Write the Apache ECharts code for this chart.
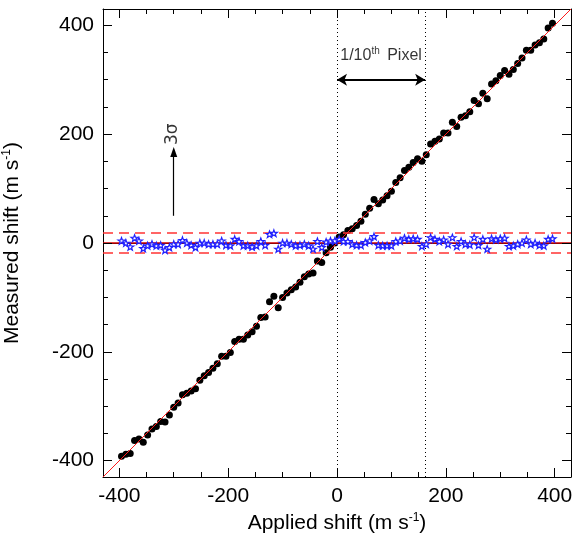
<!DOCTYPE html>
<html>
<head>
<meta charset="utf-8">
<script src="https://cdn.jsdelivr.net/npm/echarts@6/dist/echarts.min.js"></script>
<style>
html,body{margin:0;padding:0;background:#fff;}
#chart{width:577px;height:542px;}
</style>
</head>
<body>
<div id="chart"></div>
<script>
// ---- data ----
const applied = [-396,-388,-380,-372,-364,-356,-348,-340,-332,-324,-316,-308,-300,-292,-284,-276,-268,-260,-252,-244,-236,-228,-220,-212,-204,-196,-188,-180,-172,-164,-156,-148,-140,-132,-124,-116,-108,-100,-92,-84,-76,-68,-60,-52,-44,-36,-28,-20,-12,-4,4,12,20,28,36,44,52,60,68,76,84,92,100,108,116,124,132,140,148,156,164,172,180,188,196,204,212,220,228,236,244,252,260,268,276,284,292,300,308,316,324,332,340,348,356,364,372,380,388,396];
const measured = [-392,-388,-387,-363,-360,-366,-353,-342,-337,-328,-329,-316,-302,-294,-279,-276,-272,-268,-252,-244,-238,-230,-222,-208,-208,-201,-181,-177,-177,-169,-163,-153,-137,-136,-108,-98,-119,-100,-92,-86,-81,-72,-62,-57,-55,-33,-36,-18,-8,0,11,15,23,26,32,40,53,64,80,72,79,87,95,111,120,133,139,148,155,150,162,182,187,191,202,202,222,214,231,234,241,262,256,275,265,292,298,308,317,310,319,330,340,354,354,364,368,375,395,404];
const residual = [4,0,-7,9,4,-10,-5,-2,-5,-4,-13,-8,-2,-2,5,0,-4,-8,0,0,-2,-2,-2,4,-4,-5,7,3,-5,-5,-7,-5,3,-4,16,18,-11,0,0,-2,-5,-4,-2,-5,-11,3,-8,2,4,4,7,3,3,-2,-4,-4,1,4,12,-4,-5,-5,-5,3,4,9,7,8,7,-6,-2,10,7,3,6,-2,10,-6,3,-2,-3,10,-4,7,-11,8,6,8,9,-6,-5,-2,0,6,-2,0,-4,-5,7,8];
const axisRange = [-430, 430];
const majorTicks = [-400, -200, 0, 200, 400];
const minorTicks = [-350, -300, -250, -150, -100, -50, 50, 100, 150, 250, 300, 350];
const sigmaLevel = 18;          // 3 sigma band
const pixelTenth = 162;         // 1/10th pixel in m/s
const doubleArrowY = 300;
const sigmaArrow = [[-300, 50], [-300, 167]];
const pixelLabelPos = [81, 344];
const sigmaLabelPos = [-302, 200];

const FONT = '"Liberation Sans", Arial, Helvetica, sans-serif';

const GRID = {left: 103, right: 6, top: 9, bottom: 65};
const PLOT_H = 542 - GRID.top - GRID.bottom;
const UNITS_PER_PX = (axisRange[1] - axisRange[0]) / PLOT_H;
const MAJOR_LEN = 9 * UNITS_PER_PX, MINOR_LEN = 5 * UNITS_PER_PX;

const starPath = 'path://M50 0 L61.76 33.82 L97.55 34.55 L69.02 56.18 L79.39 90.45 L50 70 L20.61 90.45 L30.98 56.18 L2.45 34.55 L38.24 33.82 Z';

function axisSet(pos, showLabel, name, gap) {
  const o = {
    type: 'value', position: pos, min: axisRange[0], max: axisRange[1],
    splitNumber: 4,
    splitLine: {show: false},
    axisLine: {show: true, onZero: false, lineStyle: {color: '#000', width: 1}},
    axisTick: {show: true, inside: true, length: 9, lineStyle: {color: '#000', width: 1}},
    minorTick: {show: true, splitNumber: 4, length: 5, lineStyle: {color: '#000', width: 1}},
    axisLabel: {show: showLabel, showMinLabel: false, showMaxLabel: false, margin: 9, color: '#000', fontSize: 21, fontFamily: FONT}
  };
  if (name) {
    o.name = name;
    o.nameLocation = 'middle';
    o.nameGap = gap;
    o.nameTextStyle = {
      color: '#000', fontSize: 21, fontFamily: FONT,
      rich: {
        n: {fontSize: 21, fontFamily: FONT, color: '#000'},
        s: {fontSize: 12, fontFamily: FONT, color: '#000', padding: [0, 0, 10, 0]}
      }
    };
  }
  return o;
}

const measuredData = applied.map((x, i) => [x, measured[i]]);
const residualData = applied.map((x, i) => [x, residual[i]]);

// inward tick marks on all four sides, as marker segments in axis units
const tickLines = [];
function addTicks(vals, len) {
  vals.forEach(v => {
    tickLines.push([{coord: [v, axisRange[0]]}, {coord: [v, axisRange[0] + len]}]);
    tickLines.push([{coord: [v, axisRange[1]]}, {coord: [v, axisRange[1] - len]}]);
    tickLines.push([{coord: [axisRange[0], v]}, {coord: [axisRange[0] + len, v]}]);
    tickLines.push([{coord: [axisRange[1], v]}, {coord: [axisRange[1] - len, v]}]);
  });
}
addTicks(majorTicks, MAJOR_LEN);
addTicks(minorTicks, MINOR_LEN);

const chart = echarts.init(document.getElementById('chart'), null, {renderer: 'canvas'});
chart.setOption({
  animation: false,
  backgroundColor: '#fff',
  grid: {left: GRID.left, right: GRID.right, top: GRID.top, bottom: GRID.bottom, outerBoundsMode: 'none'},
  xAxis: [
    axisSet('bottom', true, '{n|Applied shift (m s}{s|-1}{n|)}', 34),
    axisSet('top', false)
  ],
  yAxis: [
    axisSet('left', true, '{n|Measured shift (m s}{s|-1}{n|)}', 80),
    axisSet('right', false)
  ],
  series: [
    {
      type: 'line', data: [], silent: true,
      markLine: {
        silent: true, symbol: 'none', animation: false,
        label: {show: false},
        data: [
          [{coord: [axisRange[0], 0]}, {coord: [axisRange[1], 0], lineStyle: {color: '#000', width: 1.2, type: 'solid'}}],
          [{coord: [0, axisRange[0]]}, {coord: [0, axisRange[1]], lineStyle: {color: '#000', width: 1, type: [1, 3]}}],
          [{coord: [pixelTenth, axisRange[0]]}, {coord: [pixelTenth, axisRange[1]], lineStyle: {color: '#000', width: 1, type: [1, 3]}}]
        ]
      },
      z: 1
    },
    {
      name: 'measured', type: 'scatter', data: measuredData,
      symbol: 'circle', symbolSize: 7,
      itemStyle: {color: '#000', opacity: 1}, z: 3
    },
    {
      type: 'line', data: [], silent: true,
      markLine: {
        silent: true, symbol: 'none', animation: false,
        label: {show: false},
        data: [
          [{coord: [axisRange[0], axisRange[0]]}, {coord: [axisRange[1], axisRange[1]], lineStyle: {color: '#ff1a1a', width: 1, type: 'solid'}}],
          [{coord: [axisRange[0], 0]}, {coord: [axisRange[1], 0], lineStyle: {color: '#d00000', width: 1.5, type: 'solid'}}],
          [{coord: [axisRange[0], sigmaLevel]}, {coord: [axisRange[1], sigmaLevel], lineStyle: {color: '#ff3333', width: 1.5, type: [10, 6]}}],
          [{coord: [axisRange[0], -sigmaLevel]}, {coord: [axisRange[1], -sigmaLevel], lineStyle: {color: '#ff3333', width: 1.5, type: [10, 6]}}]
        ]
      },
      z: 4
    },
    {
      name: 'residual', type: 'scatter', data: residualData,
      symbol: starPath, symbolSize: 7, symbolKeepAspect: true,
      itemStyle: {color: '#fff', borderColor: '#1f1fff', borderWidth: 1.2, opacity: 1}, z: 5
    },
    {
      type: 'line', data: [], silent: true,
      markLine: {
        silent: true, animation: false,
        label: {show: false},
        data: [
          [{coord: sigmaArrow[0], symbol: 'none'}, {coord: sigmaArrow[1], symbol: 'triangle', symbolSize: [7, 10], lineStyle: {color: '#000', width: 1.2, type: 'solid'}}],
          [{coord: [0, doubleArrowY], symbol: 'arrow', symbolSize: [9, 10]}, {coord: [pixelTenth, doubleArrowY], symbol: 'arrow', symbolSize: [9, 10], lineStyle: {color: '#000', width: 2, type: 'solid'}}]
        ],
        itemStyle: {color: '#000'}
      },
      z: 6
    },
    {
      type: 'line', data: [], silent: true,
      markLine: {
        silent: true, symbol: 'none', animation: false,
        label: {show: false},
        lineStyle: {color: '#000', width: 1, type: 'solid'},
        data: tickLines
      },
      z: 8
    },
    {
      type: 'scatter', data: [pixelLabelPos], symbolSize: 0, silent: true,
      label: {
        show: true, position: 'inside',
        formatter: '{n|1/10}{s|th}{n| Pixel}',
        rich: {
          n: {fontSize: 16, fontFamily: FONT, color: '#000'},
          s: {fontSize: 10, fontFamily: FONT, color: '#000', padding: [0, 3, 9, 0]}
        }
      }, z: 7
    },
    {
      type: 'scatter', data: [sigmaLabelPos], symbolSize: 0, silent: true,
      label: {
        show: true, position: 'inside', rotate: 90,
        formatter: '3σ', fontSize: 17, fontFamily: '"DejaVu Sans", sans-serif', color: '#000'
      }, z: 7
    }
  ]
});
</script>
</body>
</html>
